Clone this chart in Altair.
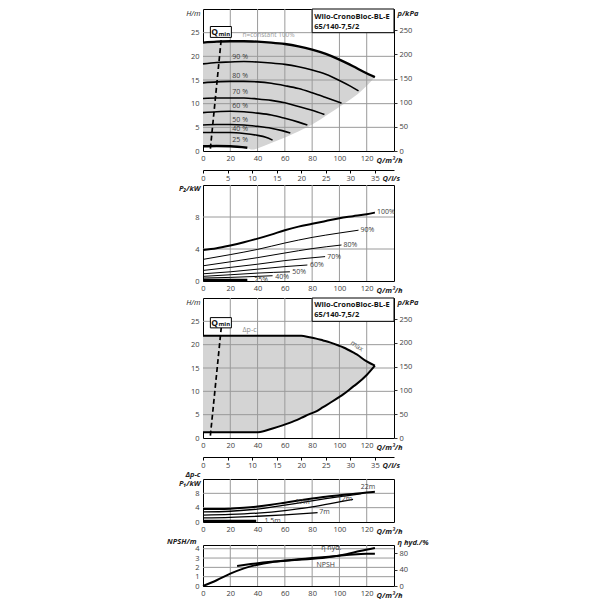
import altair as alt
import pandas as pd

FONT = "Open Sans"
W = 191
GRID = "#9a9a9a"
LAB = "#3c3c3c"
FILL = "#d4d4d4"

Q_TICKS = [0, 20, 40, 60, 80, 100, 120]
LS_TICKS = [0, 5, 10, 15, 20, 25, 30, 35]

# ---------------- panel 1 : H(Q), n = constant ----------------
p1_q_100 = [0, 10, 20, 30, 40, 50, 60, 70, 80, 90, 100, 110, 118, 126]
p1_h_100 = [22.9, 23.1, 23.2, 23.2, 23.1, 22.9, 22.6, 22.1, 21.4, 20.5, 19.3, 17.9, 16.7, 15.6]
p1_q_90 = [0, 10, 20, 30, 40, 50, 60, 70, 80, 90, 100, 108, 114]
p1_h_90 = [18.4, 18.7, 18.8, 18.9, 18.8, 18.6, 18.3, 17.8, 17.1, 16.2, 14.9, 13.7, 12.7]
p1_q_80 = [0, 10, 20, 30, 40, 50, 60, 70, 80, 90, 101.5]
p1_h_80 = [14.4, 14.6, 14.7, 14.7, 14.6, 14.3, 13.8, 13.2, 12.3, 11.3, 10.1]
p1_q_70 = [0, 10, 20, 30, 40, 50, 60, 70, 80, 89]
p1_h_70 = [11.1, 11.2, 11.2, 11.2, 11.0, 10.7, 10.2, 9.4, 8.6, 7.7]
p1_q_60 = [0, 10, 20, 30, 40, 50, 60, 70, 76.5]
p1_h_60 = [8.1, 8.3, 8.4, 8.3, 8.0, 7.6, 6.9, 6.1, 5.5]
p1_q_50 = [0, 10, 20, 30, 40, 50, 58, 64]
p1_h_50 = [5.5, 5.6, 5.6, 5.5, 5.2, 4.8, 4.3, 3.8]
p1_q_40 = [0, 10, 20, 30, 40, 46, 51]
p1_h_40 = [3.9, 3.9, 3.9, 3.7, 3.3, 2.9, 2.3]
p1_q_25 = [0, 10, 20, 32.5]
p1_h_25 = [1.0, 1.05, 1.0, 0.7]

p1_area_q = [0, 10, 20, 32.5, 36, 45, 55, 67, 80, 92, 105, 116, 126]
p1_area_top = [22.9, 23.1, 23.2, 23.2, 23.15, 23.0, 22.75, 22.25, 21.4, 20.3, 18.6, 17.0, 15.6]
p1_area_bot = [1.0, 1.05, 1.0, 0.6, 0.3, 1.1, 2.25, 3.75, 5.6, 7.8, 10.3, 12.7, 15.6]

p1_lab_text = ["90 %", "80 %", "70 %", "60 %", "50 %", "40 %", "25 %"]
p1_lab_q = [21.5, 21.5, 21.5, 21.5, 21.5, 21.5, 21.5]
p1_lab_h = [19.4, 15.5, 12.0, 9.0, 6.2, 4.2, 1.8]

# ---------------- panel 2 : P2(Q) ----------------
p2_q_100 = [0, 10, 20, 30, 40, 50, 60, 70, 80, 90, 100, 110, 120, 126]
p2_p_100 = [3.87, 4.1, 4.45, 4.85, 5.3, 5.8, 6.35, 6.8, 7.15, 7.5, 7.85, 8.1, 8.35, 8.55]
p2_q_90 = [0, 20, 40, 60, 80, 100, 114]
p2_p_90 = [2.7, 3.3, 3.95, 4.75, 5.45, 6.0, 6.35]
p2_q_80 = [0, 20, 40, 60, 80, 101.5]
p2_p_80 = [1.9, 2.4, 2.92, 3.5, 4.05, 4.5]
p2_q_70 = [0, 20, 40, 60, 89.5]
p2_p_70 = [1.32, 1.7, 2.1, 2.55, 3.05]
p2_q_60 = [0, 20, 40, 60, 76.5]
p2_p_60 = [0.9, 1.15, 1.48, 1.8, 2.0]
p2_q_50 = [0, 20, 40, 63.7]
p2_p_50 = [0.58, 0.78, 0.99, 1.15]
p2_q_40 = [0, 20, 40, 51]
p2_p_40 = [0.37, 0.45, 0.58, 0.66]
p2_q_25 = [0, 32.5]
p2_p_25 = [0.12, 0.12]

p2_lab_text = ["100%", "90%", "80%", "70%", "60%", "50%", "40%", "25%"]
p2_lab_q = [127.5, 115.5, 103, 91, 78.5, 65.5, 53, 37.5]
p2_lab_p = [8.6, 6.4, 4.5, 3.05, 2.0, 1.15, 0.55, 0.12]

# ---------------- panel 3 : H(Q), delta-p-c ----------------
p3_q = [0, 40.5, 51, 64, 72, 78, 83, 88, 93, 100, 103, 110, 112.7, 120, 126]
p3_top = [21.9, 21.9, 21.9, 21.9, 21.9, 21.6, 21.3, 20.9, 20.5, 19.75, 19.4, 18.35, 17.9, 16.4, 15.5]
p3_bot = [1.25, 1.25, 2.05, 3.3, 4.3, 5.1, 5.7, 6.6, 7.5, 8.8, 9.4, 11.0, 11.6, 13.5, 15.5]

# ---------------- panel 4 : P1(Q), delta-p-c ----------------
p4_q_22 = [0, 10, 20, 30, 40, 50, 60, 70, 80, 90, 100, 110, 120, 126]
p4_p_22 = [3.6, 3.62, 3.7, 3.95, 4.3, 4.8, 5.4, 6.0, 6.55, 7.05, 7.45, 7.85, 8.25, 8.45]
p4_q_17 = [0, 20, 40, 60, 73, 90, 105, 116]
p4_p_17 = [2.8, 3.0, 3.6, 4.7, 5.5, 6.5, 7.3, 7.9]
p4_q_12 = [0, 20, 40, 60, 80, 100, 110]
p4_p_12 = [1.9, 2.1, 2.5, 3.2, 4.2, 5.6, 6.3]
p4_q_7 = [0, 20, 40, 60, 84]
p4_p_7 = [1.15, 1.3, 1.6, 2.0, 2.6]
p4_q_15 = [0, 39]
p4_p_15 = [0.3, 0.3]

p4_lab_text = ["22m", "17m", "12m", "7m", "1.5m"]
p4_lab_q = [121, 73, 104, 89, 51]
p4_lab_p = [9.9, 5.6, 6.3, 2.7, 0.3]

# ---------------- panel 5 : NPSH / eta ----------------
p5_npsh_q = [25, 35, 50, 70, 90, 105, 115, 126]
p5_npsh_v = [2.15, 2.35, 2.6, 2.82, 3.05, 3.42, 3.75, 4.07]
p5_eta_q = [0, 10, 20, 30, 40, 50, 60, 70, 80, 90, 100, 110, 120, 126]
p5_eta_v = [0, 14, 30, 43, 52, 58, 62, 65, 68, 71, 74, 77, 78.5, 78.5]

# Qmin marker and type box
qmin_line_q = [5.4, 13.5]
qmin_line_h = [0.5, 24.0]
title_line1 = "Wilo-CronoBloc-BL-E"
title_line2 = "65/140-7,5/2"


def long_form(pairs):
    rows = []
    for name, qs, vs in pairs:
        for q, v in zip(qs, vs):
            rows.append({"s": name, "q": q, "v": v})
    return pd.DataFrame(rows)


XS = alt.Scale(domain=[0, 140], nice=False, zero=False)


def ysc(top):
    return alt.Scale(domain=[0, top], nice=False, zero=False)


def x_axis():
    return alt.Axis(values=Q_TICKS, grid=False, domain=False,
                    ticks=False, labelPadding=3, labelFlush=False, labelFontSize=7.5,
                    labelColor=LAB, labelFont=FONT, title="Q/m³/h", titleX=173, titleY=11,
                    titleAlign="left", titleBaseline="alphabetic", titleFont=FONT,
                    titleFontSize=7.5, titleFontWeight="bold", titleFontStyle="italic",
                    titleColor="#222")


def y_axis(vals, title, ty=6, weight="normal", tx=-3):
    return alt.Axis(values=vals, grid=False, domain=False,
                    ticks=False, labelPadding=4, labelFontSize=7.5, labelColor=LAB,
                    labelFont=FONT, title=title, titleAngle=0, titleAlign="right",
                    titleBaseline="alphabetic", titleX=tx, titleY=ty, titleFont=FONT,
                    titleFontSize=7.5, titleFontStyle="italic", titleFontWeight=weight,
                    titleColor="#222")


class Panel:
    """Holds the shared scales / axes of one panel so every layer uses identical encodings."""

    def __init__(self, top, yvals, ytitle, ty=6, weight="normal", tx=-3):
        self.top = top
        self.yvals = yvals
        self.xa = x_axis()
        self.ya = y_axis(yvals, ytitle, ty, weight, tx)

    def x(self, field="q"):
        return alt.X(f"{field}:Q", scale=XS, axis=self.xa)

    def y(self, field="v"):
        return alt.Y(f"{field}:Q", scale=ysc(self.top), axis=self.ya)

    def grid(self):
        gx = (alt.Chart(pd.DataFrame({"q": Q_TICKS[1:]}))
              .mark_rule(color=GRID, strokeWidth=1).encode(x=self.x()))
        gy = (alt.Chart(pd.DataFrame({"v": self.yvals[1:]}))
              .mark_rule(color=GRID, strokeWidth=1).encode(y=self.y()))
        return [gx, gy]

    def lines(self, df, names, width):
        return (alt.Chart(df)
                .transform_filter(alt.FieldOneOfPredicate(field="s", oneOf=names))
                .mark_line(color="black", strokeWidth=width, interpolate="monotone")
                .encode(x=self.x(), y=self.y(), detail="s:N"))

    def area(self, qs, tops, bots):
        return (alt.Chart(pd.DataFrame({"q": qs, "v": tops, "v2": bots}))
                .mark_area(color=FILL, interpolate="monotone")
                .encode(x=self.x(), y=self.y(), y2="v2"))

    def text(self, texts, qs, vs, size=7, color=LAB, align="left", baseline="alphabetic",
             weight="normal", angle=0):
        df = pd.DataFrame({"t": texts, "q": qs, "v": vs})
        return (alt.Chart(df)
                .mark_text(font=FONT, fontSize=size, color=color, align=align,
                           baseline=baseline, fontWeight=weight, angle=angle)
                .encode(x=self.x(), y=self.y(), text="t:N"))

    def rect(self, q1, q2, v1, v2, width=1.0):
        df = pd.DataFrame({"q": [q1], "q2": [q2], "v": [v1], "v2": [v2]})
        return (alt.Chart(df).mark_rect(fill="white", stroke="black", strokeWidth=width)
                .encode(x=self.x(), x2="q2", y=self.y(), y2="v2"))

    def qmin(self, b1, b2):
        df = pd.DataFrame({"q": qmin_line_q, "v": qmin_line_h})
        dash = (alt.Chart(df).mark_line(color="black", strokeWidth=1.7, strokeDash=[5, 3])
                .encode(x=self.x(), y=self.y()))
        mid = (b1 + b2) / 2
        return [dash, self.rect(5.4, 20.8, b1, b2, 1.0),
                self.text(["Q"], [8.6], [mid], size=8.5, color="#111", align="center",
                          baseline="middle", weight="bold"),
                self.text(["min"], [15.6], [mid - 0.35], size=6, color="#111", align="center",
                          baseline="middle", weight="bold")]

    def type_box(self):
        return [self.rect(80, 140, 25, 30, 1.0),
                self.text([title_line1, title_line2], [81.5, 81.5], [28.4, 26.3], size=7.5,
                          color="#111", baseline="middle", weight="bold")]


def spacer(T, H, B):
    return (alt.Chart(pd.DataFrame({"z": [0]})).mark_rule(opacity=0, strokeWidth=0.5)
            .encode(x=alt.value(0), y=alt.value(-T), y2=alt.value(H + B)))


def ls_kpa_layer(top_kpa):
    df = pd.DataFrame({"ls": [0, 140 / 3.6], "kpa": [0, top_kpa]})
    ls_axis = alt.Axis(values=LS_TICKS, orient="bottom", offset=19, grid=False, domain=True,
                       domainColor="black", ticks=True, tickSize=3, tickColor="black",
                       labelPadding=1, labelFlush=False, labelFontSize=7.5, labelColor=LAB,
                       labelFont=FONT, title="Q/l/s", titleX=179, titleY=10, titleAlign="left",
                       titleBaseline="alphabetic", titleFont=FONT, titleFontSize=7.5,
                       titleFontWeight="bold", titleFontStyle="italic", titleColor="#222")
    kpa_axis = alt.Axis(values=[0, 50, 100, 150, 200, 250], orient="right", grid=False,
                        domain=False, ticks=True, tickSize=3, tickColor="#333", labelPadding=2,
                        labelFontSize=7.5, labelColor=LAB, labelFont=FONT, title="p/kPa",
                        titleAngle=0, titleAlign="left", titleBaseline="alphabetic", titleX=3,
                        titleY=6, titleFont=FONT, titleFontSize=7.5, titleFontStyle="italic",
                        titleColor="#222")
    return (alt.Chart(df).mark_point(opacity=0)
            .encode(x=alt.X("ls:Q", scale=alt.Scale(domain=[0, 140 / 3.6], nice=False, zero=False),
                            axis=ls_axis),
                    y=alt.Y("kpa:Q", scale=alt.Scale(domain=[0, top_kpa], nice=False, zero=False),
                            axis=kpa_axis)))


# ---------- panel 1 ----------
H1 = 142
P1 = Panel(30, [0, 5, 10, 15, 20, 25], "H/m")
df1 = long_form([("100", p1_q_100, p1_h_100), ("90", p1_q_90, p1_h_90), ("80", p1_q_80, p1_h_80),
                 ("70", p1_q_70, p1_h_70), ("60", p1_q_60, p1_h_60), ("50", p1_q_50, p1_h_50),
                 ("40", p1_q_40, p1_h_40), ("25", p1_q_25, p1_h_25)])
inner1 = alt.layer(
    P1.area(p1_area_q, p1_area_top, p1_area_bot),
    *P1.grid(),
    P1.lines(df1, ["90", "80", "70", "60", "50", "40"], 1.6),
    P1.lines(df1, ["100", "25"], 2.4),
    P1.text(p1_lab_text, p1_lab_q, p1_lab_h),
    P1.text(["n=constant 100%"], [28.9], [24.0], size=6.5, color="#9a9a9a"),
    *P1.qmin(24.0, 26.3),
    *P1.type_box(),
    spacer(1, H1, 30),
)
p1 = alt.layer(inner1, ls_kpa_layer(294.3)).resolve_scale(x="independent", y="independent") \
    .properties(width=W, height=H1)

# ---------- panel 2 ----------
H2 = 96
P2 = Panel(12, [0, 4, 8], "P₂/kW", 5, "bold")
df2 = long_form([("100", p2_q_100, p2_p_100), ("90", p2_q_90, p2_p_90), ("80", p2_q_80, p2_p_80),
                 ("70", p2_q_70, p2_p_70), ("60", p2_q_60, p2_p_60), ("50", p2_q_50, p2_p_50),
                 ("40", p2_q_40, p2_p_40), ("25", p2_q_25, p2_p_25)])
p2 = alt.layer(
    *P2.grid(),
    P2.lines(df2, ["90", "80", "70", "60", "50", "40"], 1.0),
    P2.lines(df2, ["100"], 2.0),
    P2.lines(df2, ["25"], 2.8),
    P2.text(p2_lab_text, p2_lab_q, p2_lab_p, size=7, baseline="middle"),
    spacer(2, H2, 12),
).properties(width=W, height=H2)

# ---------- panel 3 ----------
H3 = 140
P3 = Panel(30, [0, 5, 10, 15, 20, 25], "H/m")
df3 = long_form([("top", p3_q, p3_top), ("bot", p3_q, p3_bot)])
inner3 = alt.layer(
    P3.area(p3_q, p3_top, p3_bot),
    *P3.grid(),
    P3.lines(df3, ["top", "bot"], 2.0),
    P3.text(["Δp-c"], [29], [22.8], size=7, color="#8a8a8a"),
    P3.text(["max"], [112], [19.3], size=7, color="#666", align="center", angle=33),
    *P3.qmin(23.6, 25.8),
    *P3.type_box(),
    spacer(2, H3, 24),
)
p3 = alt.layer(inner3, ls_kpa_layer(294.3)).resolve_scale(x="independent", y="independent") \
    .properties(width=W, height=H3)

# ---------- panel 4 ----------
H4 = 43
P4 = Panel(12, [0, 4, 8], ["Δp-c", "P₁/kW"], -3, "bold")
df4 = long_form([("22", p4_q_22, p4_p_22), ("17", p4_q_17, p4_p_17), ("12", p4_q_12, p4_p_12),
                 ("7", p4_q_7, p4_p_7), ("1.5", p4_q_15, p4_p_15)])
p4 = alt.layer(
    *P4.grid(),
    P4.lines(df4, ["17", "12", "7"], 1.3),
    P4.lines(df4, ["22"], 2.0),
    P4.lines(df4, ["1.5"], 2.6),
    P4.text(p4_lab_text, p4_lab_q, p4_lab_p, size=7, align="center", baseline="middle"),
    spacer(7, H4, 13),
).properties(width=W, height=H4)

# ---------- panel 5 ----------
H5 = 41
P5 = Panel(4.4, [0, 1, 2, 3, 4], "NPSH/m", -2, "bold", -7)
df5 = long_form([("npsh", p5_npsh_q, p5_npsh_v)])
eta_axis = alt.Axis(values=[0, 40, 80], orient="right", grid=False, domain=False, ticks=True,
                    tickSize=3, tickColor="#333", labelPadding=2, labelFontSize=7.5,
                    labelColor=LAB, labelFont=FONT, title="η hyd./%", titleAngle=0,
                    titleAlign="left", titleBaseline="alphabetic", titleX=3, titleY=-1,
                    titleFont=FONT, titleFontSize=7.5, titleFontStyle="italic", titleColor="#222")
inner5 = alt.layer(
    *P5.grid(),
    P5.lines(df5, ["npsh"], 2.0),
    P5.text(["η hyd."], [94], [4.05], size=7, align="center", baseline="middle"),
    P5.text(["NPSH"], [90], [2.3], size=7, align="center", baseline="middle"),
    spacer(8, H5, 12),
)
eta5 = (alt.Chart(pd.DataFrame({"q": p5_eta_q, "e": p5_eta_v}))
        .mark_line(color="black", strokeWidth=2.0, interpolate="monotone")
        .encode(x=P5.x(), y=alt.Y("e:Q", scale=alt.Scale(domain=[0, 100], nice=False, zero=False),
                                  axis=eta_axis)))
p5 = alt.layer(inner5, eta5).resolve_scale(y="independent").properties(width=W, height=H5)

chart = (alt.vconcat(p1, p2, p3, p4, p5, spacing=0)
         .properties(padding={"left": 158, "top": -3, "right": 5, "bottom": 0})
         .configure_view(stroke="black", strokeWidth=1)
         .configure_axis(labelFont=FONT, titleFont=FONT))

chart.save("out.html", embed_options={"renderer": "svg", "actions": False})
